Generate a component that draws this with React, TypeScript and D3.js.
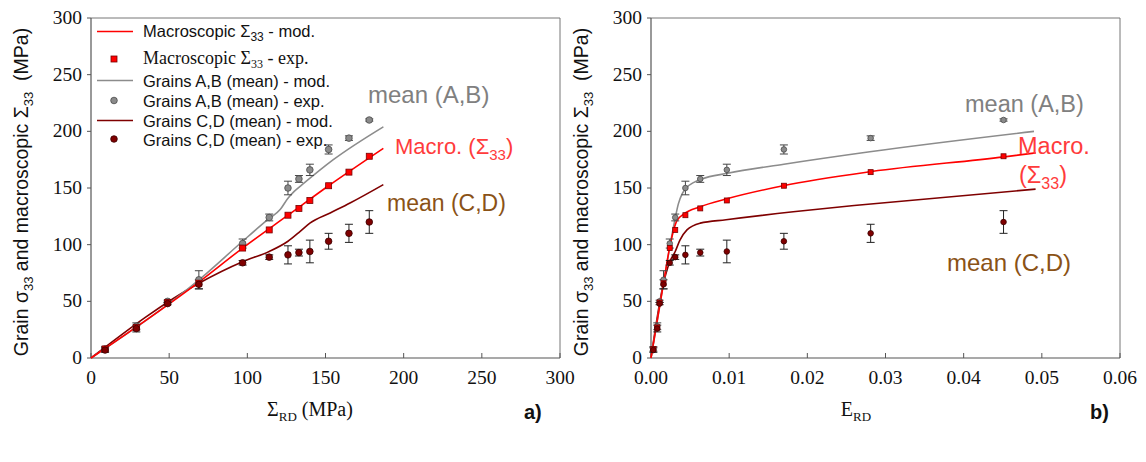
import React from "react";
import * as d3 from "d3";

// Loading steps: applied macroscopic stress (MPa) and the matching macroscopic strain E_RD
const loadMPa = [9, 29, 49, 69, 97, 114, 126, 133, 140, 152, 165, 178];
const strainRD = [0.0003, 0.0008, 0.0011, 0.0016, 0.0024, 0.0031, 0.0044, 0.0063, 0.0097, 0.017, 0.0281, 0.0451];

// Experimental values (MPa)
const macroExp = [8, 27, 49, 66, 97, 113, 126, 132, 139, 152, 164, 178];
const grainsABExp = [8, 28, 50, 69, 101, 124, 150, 158, 166, 184, 194, 210];
const grainsABErr = [2, 3, 1, 8, 4, 3, 6, 3, 5, 4, 2, 1];
const grainsCDExp = [7, 26, 48, 65, 84, 89, 91, 93, 94, 103, 110, 120];
const grainsCDErr = [2, 3, 1, 4, 2, 2, 8, 3, 10, 7, 8, 10];

// Model curves versus applied stress (panel a)
const macroModLoad = [0, 69, 97, 126, 152, 187];
const macroModA = [0, 67, 97, 126, 152, 185];
const abModLoad = [0, 70, 97, 113, 121, 126, 130, 136, 155, 187];
const abModA = [0, 70, 103, 122, 131, 141, 147, 154, 175, 204];
const cdModLoad = [0, 69, 97, 114, 126, 134, 140, 153, 166, 187];
const cdModA = [0, 66, 85, 94, 103, 112, 119, 128, 137, 153];

// Model curves versus macroscopic strain (panel b)
const macroModStrain = [0, 0.0016, 0.0024, 0.0029, 0.0033, 0.0042, 0.0063, 0.0097, 0.0169, 0.0282, 0.0452, 0.0492];
const macroModB = [0, 66, 98, 113, 121, 127, 133.5, 140.5, 152, 164.5, 177.5, 181];
const abModStrain = [0, 0.0016, 0.0024, 0.003, 0.0035, 0.004, 0.0045, 0.0055, 0.0065, 0.0098, 0.017, 0.028, 0.049];
const abModB = [0, 66, 98, 120, 136, 145, 150, 155, 158, 163, 171, 182, 200];
const cdModStrain = [0, 0.0016, 0.0024, 0.0031, 0.0037, 0.0046, 0.0063, 0.0096, 0.0182, 0.0267, 0.0492];
const cdModB = [0, 66, 85, 94, 104, 113, 119, 122, 129, 135, 149];

const yTicks = [0, 50, 100, 150, 200, 250, 300];
const xTicksA = [0, 50, 100, 150, 200, 250, 300];
const xTicksB = [0, 0.01, 0.02, 0.03, 0.04, 0.05, 0.06];

const RED = "#ff0000";
const GRAY = "#8c8c8c";
const DARKRED = "#7f0000";
const BROWN = "#8a5216";
const AXIS = "#555";
const SANS = "Liberation Sans, Arial, sans-serif";
const SERIF = "Liberation Serif, Times New Roman, serif";

const TOP = 18;
const BOTTOM = 358;

const yScale = d3.scaleLinear().domain([0, 300]).range([BOTTOM, TOP]);

type Scale = d3.ScaleLinear<number, number>;

function zip(xs: number[], ys: number[]): [number, number][] {
  return xs.map((x, i) => [x, ys[i]]);
}

function ModelLine({ x, xs, ys, color }: { x: Scale; xs: number[]; ys: number[]; color: string }) {
  const gen = d3
    .line<[number, number]>()
    .x((d) => x(d[0]))
    .y((d) => yScale(d[1]))
    .curve(d3.curveMonotoneX);
  return <path d={gen(zip(xs, ys)) || ""} fill="none" stroke={color} strokeWidth={1.6} />;
}

function ErrorBars({ x, xs, ys, err, color, cap }: { x: Scale; xs: number[]; ys: number[]; err: number[]; color: string; cap: number }) {
  return (
    <g stroke={color} strokeWidth={1}>
      {xs.map((xv, i) => {
        const cx = x(xv);
        const y1 = yScale(ys[i] + err[i]);
        const y2 = yScale(ys[i] - err[i]);
        return (
          <g key={i}>
            <line x1={cx} x2={cx} y1={y1} y2={y2} />
            <line x1={cx - cap} x2={cx + cap} y1={y1} y2={y1} />
            <line x1={cx - cap} x2={cx + cap} y1={y2} y2={y2} />
          </g>
        );
      })}
    </g>
  );
}

function Panel({ x, xTicks, fmt }: { x: Scale; xTicks: number[]; fmt: (v: number) => string }) {
  const [x0, x1] = x.range();
  return (
    <g>
      {/* frame */}
      <line x1={x0} x2={x1} y1={TOP} y2={TOP} stroke="#777" strokeWidth={1} />
      <line x1={x1} x2={x1} y1={TOP} y2={BOTTOM} stroke="#777" strokeWidth={1} />
      <line x1={x0} x2={x0} y1={TOP} y2={BOTTOM} stroke={AXIS} strokeWidth={1.2} />
      <line x1={x0} x2={x1} y1={BOTTOM} y2={BOTTOM} stroke={AXIS} strokeWidth={1.2} />
      {/* y ticks */}
      {yTicks.map((t) => (
        <g key={t}>
          <line x1={x0 - 4} x2={x0} y1={yScale(t)} y2={yScale(t)} stroke={AXIS} />
          <text x={x0 - 9} y={yScale(t) + 6} textAnchor="end" fontFamily={SERIF} fontSize={19.5} fill="#111">
            {t}
          </text>
        </g>
      ))}
      {/* x ticks */}
      {xTicks.map((t) => (
        <g key={t}>
          <line x1={x(t)} x2={x(t)} y1={BOTTOM - 5} y2={BOTTOM} stroke={AXIS} />
          <text x={x(t)} y={BOTTOM + 26} textAnchor="middle" fontFamily={SERIF} fontSize={19.5} fill="#111">
            {fmt(t)}
          </text>
        </g>
      ))}
      {/* y title */}
      <text
        transform={`translate(${x0 - 63},${(TOP + BOTTOM) / 2 + 4}) rotate(-90)`}
        textAnchor="middle"
        fontFamily={SANS}
        fontSize={19.5}
        fill="#111"
      >
        Grain σ<tspan dy={5} fontSize={13}>33</tspan>
        <tspan dy={-5}> and macroscopic Σ</tspan>
        <tspan dy={5} fontSize={13}>33</tspan>
        <tspan dy={-5}>{"\u00a0\u00a0"}(MPa)</tspan>
      </text>
    </g>
  );
}

function Markers({ x, xs, r, sq }: { x: Scale; xs: number[]; r: number; sq: number }) {
  return (
    <g>
      <ErrorBars x={x} xs={xs} ys={grainsABExp} err={grainsABErr} color="#444" cap={4} />
      <ErrorBars x={x} xs={xs} ys={grainsCDExp} err={grainsCDErr} color="#222" cap={4} />
      {xs.map((xv, i) => (
        <circle key={"ab" + i} cx={x(xv)} cy={yScale(grainsABExp[i])} r={r} fill="#8a8a8a" stroke="#4a4a4a" strokeWidth={0.8} />
      ))}
      {xs.map((xv, i) => (
        <rect
          key={"m" + i}
          x={x(xv) - sq / 2}
          y={yScale(macroExp[i]) - sq / 2}
          width={sq}
          height={sq}
          fill={RED}
          stroke="#700"
          strokeWidth={0.8}
        />
      ))}
      {xs.map((xv, i) => (
        <circle key={"cd" + i} cx={x(xv)} cy={yScale(grainsCDExp[i])} r={r} fill={DARKRED} stroke="#3a0000" strokeWidth={0.8} />
      ))}
    </g>
  );
}

function Legend() {
  const lx1 = 97;
  const lx2 = 133;
  const tx = 143;
  const fs = 16.5;
  return (
    <g fontFamily={SANS} fontSize={fs} fill="#111">
      <line x1={lx1} x2={lx2} y1={31.5} y2={31.5} stroke={RED} strokeWidth={1.6} />
      <text x={tx} y={37}>
        Macroscopic Σ<tspan dy={4} fontSize={12}>33</tspan>
        <tspan dy={-4}> - mod.</tspan>
      </text>
      <rect x={111} y={56} width={6} height={6} fill={RED} stroke="#700" strokeWidth={0.8} />
      <text x={tx} y={64} fontFamily={SERIF} fontSize={18}>
        Macroscopic Σ<tspan dy={4} fontSize={12}>33</tspan>
        <tspan dy={-4}> - exp.</tspan>
      </text>
      <line x1={lx1} x2={lx2} y1={80.5} y2={80.5} stroke={GRAY} strokeWidth={1.6} />
      <text x={tx} y={87}>Grains A,B (mean) - mod.</text>
      <circle cx={114} cy={100.5} r={3.3} fill="#8a8a8a" stroke="#4a4a4a" strokeWidth={0.8} />
      <text x={tx} y={106.5}>Grains A,B (mean) - exp.</text>
      <line x1={lx1} x2={lx2} y1={120.5} y2={120.5} stroke={DARKRED} strokeWidth={1.6} />
      <text x={tx} y={126.5}>Grains C,D (mean) - mod.</text>
      <circle cx={114} cy={139} r={3.3} fill={DARKRED} stroke="#3a0000" strokeWidth={0.8} />
      <text x={tx} y={146}>Grains C,D (mean) - exp.</text>
    </g>
  );
}

export default function App() {
  const xA = d3.scaleLinear().domain([0, 300]).range([91, 560]);
  const xB = d3.scaleLinear().domain([0, 0.06]).range([651, 1120]);
  const fmtB = d3.format(".2f");

  return (
    <svg
      width={1146}
      height={462}
      viewBox="0 0 1146 462"
      style={{ position: "absolute", left: 0, top: 0, background: "#fff" }}
    >
      <rect width={1146} height={462} fill="#fff" />

      {/* panel a: stress versus applied stress */}
      <Panel x={xA} xTicks={xTicksA} fmt={(v) => String(v)} />
      <ModelLine x={xA} xs={cdModLoad} ys={cdModA} color={DARKRED} />
      <ModelLine x={xA} xs={abModLoad} ys={abModA} color={GRAY} />
      <ModelLine x={xA} xs={macroModLoad} ys={macroModA} color={RED} />
      <Markers x={xA} xs={loadMPa} r={3.3} sq={6} />
      <Legend />
      <text x={368} y={103} fontFamily={SANS} fontSize={24} fill="#808080">mean (A,B)</text>
      <text x={395} y={154} fontFamily={SANS} fontSize={22} fill="#ff3b3b">
        Macro. (Σ<tspan dy={6} fontSize={15}>33</tspan>
        <tspan dy={-6}>)</tspan>
      </text>
      <text x={387} y={211} fontFamily={SANS} fontSize={23} fill={BROWN}>mean (C,D)</text>
      <text x={310} y={416} textAnchor="middle" fontFamily={SERIF} fontSize={20} fill="#111">
        Σ<tspan dy={5} fontSize={13}>RD</tspan>
        <tspan dy={-5}> (MPa)</tspan>
      </text>
      <text x={524} y={419} fontFamily={SANS} fontSize={20} fontWeight="bold" fill="#111">a)</text>

      {/* panel b: stress versus macroscopic strain */}
      <Panel x={xB} xTicks={xTicksB} fmt={fmtB} />
      <ModelLine x={xB} xs={cdModStrain} ys={cdModB} color={DARKRED} />
      <ModelLine x={xB} xs={abModStrain} ys={abModB} color={GRAY} />
      <ModelLine x={xB} xs={macroModStrain} ys={macroModB} color={RED} />
      <Markers x={xB} xs={strainRD} r={2.8} sq={5} />
      <text x={965} y={112} fontFamily={SANS} fontSize={23.5} fill="#808080">mean (A,B)</text>
      <text x={1018} y={154} fontFamily={SANS} fontSize={23.5} fill="#ff3b3b">Macro.</text>
      <text x={1019} y={183} fontFamily={SANS} fontSize={23.5} fill="#ff3b3b">
        (Σ<tspan dy={6} fontSize={16}>33</tspan>
        <tspan dy={-6}>)</tspan>
      </text>
      <text x={947} y={271} fontFamily={SANS} fontSize={24} fill={BROWN}>mean (C,D)</text>
      <text x={856} y={416} textAnchor="middle" fontFamily={SERIF} fontSize={20} fill="#111">
        E<tspan dy={5} fontSize={13}>RD</tspan>
      </text>
      <text x={1090} y={419} fontFamily={SANS} fontSize={20} fontWeight="bold" fill="#111">b)</text>
    </svg>
  );
}
